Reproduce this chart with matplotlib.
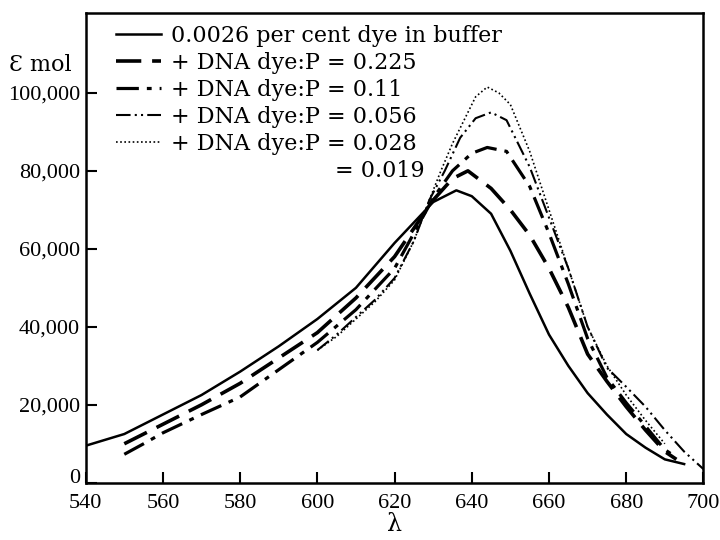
import numpy as np
import matplotlib
matplotlib.use("Agg")
import matplotlib.pyplot as plt
import matplotlib.transforms as mtransforms

plt.rcParams["font.family"] = ["DejaVu Serif"]

# dye in buffer
wl_buffer = [540, 545, 550, 555, 560, 570, 580, 590, 600, 610, 620, 630, 636,
             640, 645, 650, 655, 660, 665, 670, 675, 680, 685, 690, 695]
eps_buffer = [9500, 11000, 12500, 15000, 17500, 22500, 28500, 35000, 42000, 50000,
              61500, 72000, 75000, 73500, 69000, 59500, 48500, 38000, 30000, 23000,
              17500, 12500, 9000, 6000, 4800]

# + DNA dye:P = 0.225
wl_225 = [550, 555, 560, 570, 580, 590, 600, 610, 620, 630, 635, 639, 645, 650,
          655, 660, 665, 670, 675, 680, 685, 690, 693]
eps_225 = [10000, 12500, 15000, 20000, 25500, 32000, 38500, 47400, 58000, 72500,
           78000, 80000, 75500, 70000, 63500, 55000, 45000, 33000, 26000, 19500,
           13500, 8000, 6000]

# + DNA dye:P = 0.11
wl_11 = [550, 555, 560, 570, 580, 590, 600, 610, 620, 630, 635, 640, 644, 649,
         655, 660, 665, 670, 675, 680, 685, 690, 693]
eps_11 = [7300, 10000, 12800, 17500, 22000, 29000, 36000, 44400, 55000, 73000,
          80000, 84500, 86000, 85000, 76000, 64000, 51000, 37000, 27000, 20500,
          14500, 8500, 6500]

# + DNA dye:P = 0.056
wl_056 = [600, 605, 610, 615, 620, 625, 629, 633, 637, 641, 645, 649, 655, 660,
          665, 670, 675, 680, 685, 690, 695, 700]
eps_056 = [34000, 38000, 42500, 47000, 52500, 62000, 72500, 80000, 88500, 93500,
           95000, 93000, 81000, 68000, 55000, 40000, 29500, 24600, 19500, 13500,
           8000, 3500]

# + DNA dye:P = 0.028 / 0.019
wl_028 = [600, 605, 610, 615, 620, 625, 629, 632, 635, 638, 641, 644, 647, 650,
          655, 660, 665, 670, 675, 680, 685, 690]
eps_028 = [34000, 37500, 42000, 46500, 52000, 62000, 72500, 80000, 87000, 93000,
           99000, 101500, 100000, 97000, 85000, 70000, 55000, 40000, 30000, 22500,
           16000, 10000]

labels = ["0.0026 per cent dye in buffer",
          "+ DNA dye:P = 0.225",
          "+ DNA dye:P = 0.11",
          "+ DNA dye:P = 0.056",
          "+ DNA dye:P = 0.028"]

xticks = [540, 560, 580, 600, 620, 640, 660, 680, 700]
yticks = [0, 20000, 40000, 60000, 80000, 100000]
ytick_labels = ["0", "20,000", "40,000", "60,000", "80,000", "100,000"]

fig = plt.figure(figsize=(7.2, 5.4), dpi=100)
ax = fig.add_axes([0.119, 0.106, 0.858, 0.870])

ax.plot(wl_buffer, eps_buffer, color="black", lw=1.8, label=labels[0])
ax.plot(wl_225, eps_225, color="black", lw=2.6, dashes=(7, 3), label=labels[1])
ax.plot(wl_11, eps_11, color="black", lw=2.3, dashes=(7, 2.5, 1.5, 2.5), label=labels[2])
ax.plot(wl_056, eps_056, color="black", lw=1.5, dashes=(7, 2, 1, 2, 1, 2), label=labels[3])
ax.plot(wl_028, eps_028, color="black", lw=1.2, dashes=(1, 1.5), label=labels[4])

ax.set_xlim(540, 700)
ax.set_ylim(0, 120500)
ax.set_xticks(xticks)
ax.set_yticks(yticks)
ax.set_yticklabels(ytick_labels)
ax.tick_params(direction="in", length=8, width=1.5, labelsize=16)
ax.tick_params(axis="x", pad=8)
ax.tick_params(axis="y", pad=4)
for lab in ax.get_xticklabels() + ax.get_yticklabels():
    lab.set_family("Liberation Serif")
# the zero label sits a little higher, clear of the 540
zero_lab = ax.get_yticklabels()[0]
zero_lab.set_transform(zero_lab.get_transform() +
                       mtransforms.ScaledTranslation(0, 5 / 72, fig.dpi_scale_trans))
for s in ax.spines.values():
    s.set_linewidth(1.8)

ax.set_xlabel("λ", fontsize=17, labelpad=0)
fig.text(0.012, 0.88, "Ɛ mol", fontsize=16, va="center")

leg = ax.legend(loc="upper left", bbox_to_anchor=(0.03, 1.0), frameon=False,
                fontsize=16, handlelength=2.0, handletextpad=0.45,
                labelspacing=0.22, borderaxespad=0.15)
ax.text(0.403, 0.664, "= 0.019", transform=ax.transAxes, fontsize=16,
        ha="left", va="center")

fig.savefig("out.png", dpi=100)
